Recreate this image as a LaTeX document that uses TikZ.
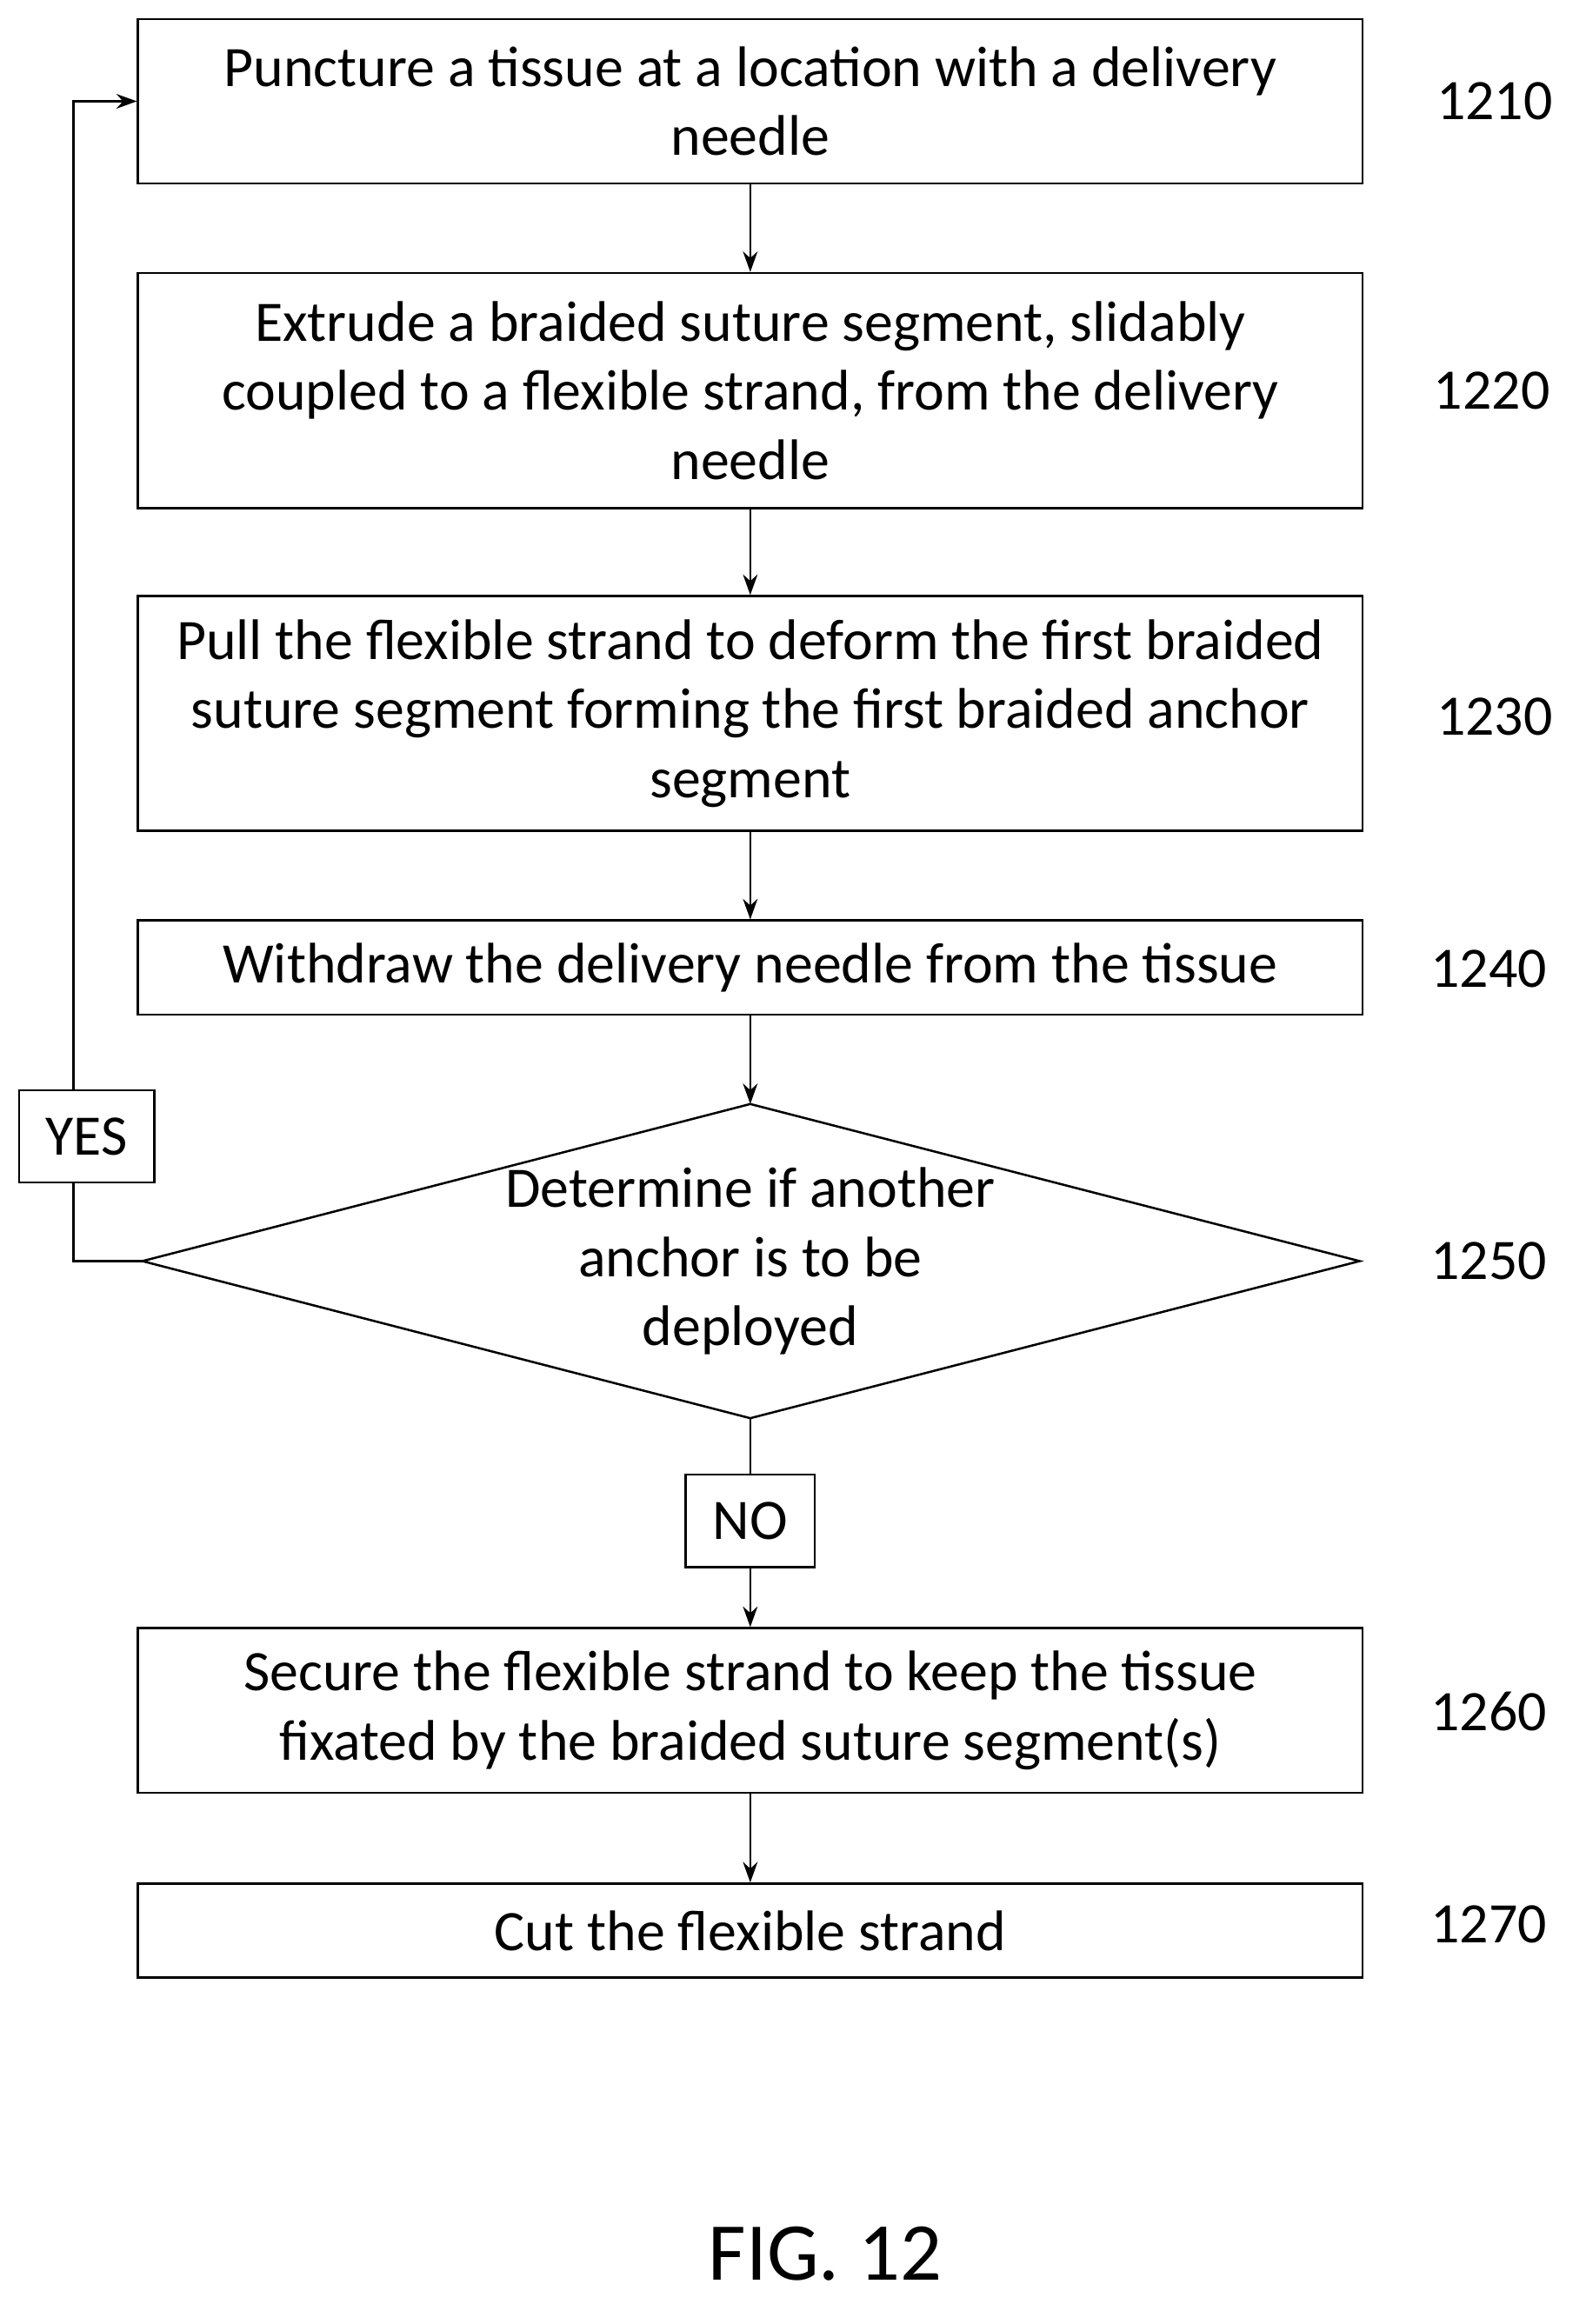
\documentclass[tikz,border=0pt]{standalone}
\usepackage{fontspec}
\setmainfont{Carlito}
\usetikzlibrary{arrows.meta,shapes.geometric}
\begin{document}
\begin{tikzpicture}[x=1pt,y=-1pt,
  box/.style={draw,line width=1.5pt,minimum width=834pt,align=center,inner sep=0pt},
  lbl/.style={inner sep=0pt},
  arr/.style={line width=1.3pt,-{Stealth[length=14pt,width=10pt]}},
  every node/.style={font=\fontsize{39}{47}\selectfont}]
\useasboundingbox (0,0) rectangle (1080,1583);
\node[box,minimum height=112pt] (b1) at (511,69) {Puncture a tissue at a location with a delivery\\needle};
\node[box,minimum height=160pt] (b2) at (511,266) {Extrude a braided suture segment, slidably\\coupled to a flexible strand, from the delivery\\needle};
\node[box,minimum height=160pt] (b3) at (511,486) {Pull the flexible strand to deform the first braided\\suture segment forming the first braided anchor\\segment};
\node[box,minimum height=64pt] (b4) at (511,659) {Withdraw the delivery needle from the tissue};
\draw[line width=1.5pt] (97,859) coordinate (dl) -- (511,752) coordinate (dt) -- (926,859) -- (511,966) coordinate (db) -- cycle;
\node[align=center] (d) at (511,859) {Determine if another\\anchor is to be\\deployed};
\node[draw,line width=1.5pt,minimum width=88pt,minimum height=63pt,inner sep=0pt] (no) at (511,1036) {NO};
\draw[arr] (dl) -- (50,859) -- (50,69) -- (b1.west);
\node[draw,fill=white,line width=1.5pt,minimum width=92pt,minimum height=63pt,inner sep=0pt] (yes) at (59,774) {YES};
\node[box,minimum height=112pt] (b6) at (511,1165) {Secure the flexible strand to keep the tissue\\fixated by the braided suture segment(s)};
\node[box,minimum height=64pt] (b7) at (511,1315) {Cut the flexible strand};
\draw[arr] (b1) -- (b2);
\draw[arr] (b2) -- (b3);
\draw[arr] (b3) -- (b4);
\draw[arr] (b4) -- (dt);
\draw[line width=1.3pt] (db) -- (no);
\draw[arr] (no) -- (b6);
\draw[arr] (b6) -- (b7);
\node[lbl] at (1018,69) {1210};
\node[lbl] at (1016,266) {1220};
\node[lbl] at (1018,488) {1230};
\node[lbl] at (1014,660) {1240};
\node[lbl] at (1014,859) {1250};
\node[lbl] at (1014,1166) {1260};
\node[lbl] at (1014,1311) {1270};
\node[lbl,font=\fontsize{56}{60}\selectfont] at (562,1535) {FIG. 12};
\end{tikzpicture}
\end{document}
